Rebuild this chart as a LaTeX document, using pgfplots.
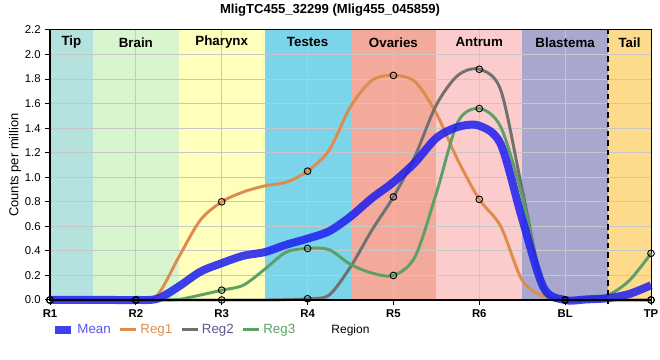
\documentclass[border=0pt]{standalone}
\usepackage{pgfplots}
\pgfplotsset{compat=1.18}
\usepackage{fontspec}
\setmainfont{Liberation Sans}
\definecolor{ctip}{RGB}{180,226,222}
\definecolor{cbrain}{RGB}{216,245,208}
\definecolor{cphar}{RGB}{255,255,187}
\definecolor{ctest}{RGB}{123,212,234}
\definecolor{covar}{RGB}{244,170,155}
\definecolor{cantr}{RGB}{252,204,204}
\definecolor{cblas}{RGB}{168,168,206}
\definecolor{ctail}{RGB}{253,218,140}
\definecolor{cmean}{RGB}{30,30,240}
\definecolor{creg1}{RGB}{222,140,78}
\definecolor{creg2}{RGB}{112,112,112}
\definecolor{creg3}{RGB}{92,160,104}
\pgfplotsset{set layers}
\begin{document}
\begin{tikzpicture}
\begin{axis}[
  scale only axis, width=450.75pt, height=202.5pt,
  xmin=0, xmax=7, ymin=0, ymax=2.2,
  clip=false,
  xtick={0,1,2,3,4,5,6,7},
  xticklabels={R1,R2,R3,R4,R5,R6,BL,TP},
  ytick={0,0.2,0.4,0.6,0.8,1.0,1.2,1.4,1.6,1.8,2.0,2.2},
  /pgf/number format/fixed, /pgf/number format/fixed zerofill, /pgf/number format/precision=1, /pgf/number format/assume math mode=true,
  yticklabel style={font=\fontsize{8.5}{10}\selectfont},
  xticklabel style={font=\bfseries\fontsize{8.5}{10}\selectfont},
  xtick pos=bottom, ytick pos=left,
  tick align=outside, major tick length=3.5pt,
  tick style={black, line width=0.75pt},
  grid=major,
  major grid style={draw=black!22, line width=0.75pt},
  axis line style={black, line width=0.75pt},
  title={MligTC455\_32299 (Mlig455\_045859)},
  title style={at={(axis description cs:0.466,1.033)}, anchor=base, font=\bfseries\fontsize{9.8}{12}\selectfont},
  ylabel={Counts per million},
  ylabel style={at={(axis description cs:-0.058,0.5)}, anchor=center, font=\fontsize{9.7}{11}\selectfont},
  xlabel={Region},
  xlabel style={at={(axis description cs:0.5,-0.111)}, anchor=center, font=\fontsize{9}{11}\selectfont},
  legend style={at={(axis description cs:0.002,-0.111)}, anchor=west, draw=none, fill=none,
    legend columns=4, font=\fontsize{10}{12}\selectfont, inner sep=0pt,
    /tikz/every even column/.append style={column sep=4pt}},
  legend image code/.code={\draw[#1] (0pt,0pt) -- (12pt,0pt);},
]
% region bands
\addplot[fill=ctip, draw=none, on layer=axis background, forget plot] coordinates {(0,0) (0.5,0) (0.5,2.2) (0,2.2)};
\addplot[fill=cbrain, draw=none, on layer=axis background, forget plot] coordinates {(0.5,0) (1.5,0) (1.5,2.2) (0.5,2.2)};
\addplot[fill=cphar, draw=none, on layer=axis background, forget plot] coordinates {(1.5,0) (2.5,0) (2.5,2.2) (1.5,2.2)};
\addplot[fill=ctest, draw=none, on layer=axis background, forget plot] coordinates {(2.5,0) (3.5,0) (3.5,2.2) (2.5,2.2)};
\addplot[fill=covar, draw=none, on layer=axis background, forget plot] coordinates {(3.5,0) (4.5,0) (4.5,2.2) (3.5,2.2)};
\addplot[fill=cantr, draw=none, on layer=axis background, forget plot] coordinates {(4.5,0) (5.5,0) (5.5,2.2) (4.5,2.2)};
\addplot[fill=cblas, draw=none, on layer=axis background, forget plot] coordinates {(5.5,0) (6.5,0) (6.5,2.2) (5.5,2.2)};
\addplot[fill=ctail, draw=none, on layer=axis background, forget plot] coordinates {(6.5,0) (7,0) (7,2.2) (6.5,2.2)};
\node[font=\bfseries\fontsize{10}{12}\selectfont] at (axis cs:0.25,2.1) {Tip};
\node[font=\bfseries\fontsize{10}{12}\selectfont] at (axis cs:1,2.1) {Brain};
\node[font=\bfseries\fontsize{10}{12}\selectfont] at (axis cs:2,2.1) {Pharynx};
\node[font=\bfseries\fontsize{10}{12}\selectfont] at (axis cs:3,2.1) {Testes};
\node[font=\bfseries\fontsize{10}{12}\selectfont] at (axis cs:4,2.1) {Ovaries};
\node[font=\bfseries\fontsize{10}{12}\selectfont] at (axis cs:5,2.1) {Antrum};
\node[font=\bfseries\fontsize{10}{12}\selectfont] at (axis cs:6,2.1) {Blastema};
\node[font=\bfseries\fontsize{10}{12}\selectfont] at (axis cs:6.75,2.1) {Tail};
% Reg1
\addplot[creg1, line width=2.2pt, smooth, forget plot] coordinates {
(0,0) (0.25,0) (0.5,0) (0.75,0) (1,0) (1.25,0.04) (1.5,0.35) (1.75,0.65) (2,0.8) (2.25,0.88) (2.5,0.93) (2.75,0.96) (3,1.05) (3.25,1.22) (3.5,1.575) (3.75,1.79) (4,1.83) (4.25,1.78) (4.5,1.52) (4.75,1.14) (5,0.82) (5.25,0.6) (5.5,0.16) (5.75,0.03) (6,0) (6.25,0) (6.5,0) (6.75,0) (7,0)};
% Reg2
\addplot[creg2, line width=2.2pt, smooth, forget plot] coordinates {
(0,0) (0.25,0) (0.5,0) (0.75,0) (1,0) (1.25,0) (1.5,0) (1.75,0) (2,0) (2.25,0) (2.5,0) (2.75,0.003) (3,0.01) (3.25,0.04) (3.5,0.27) (3.75,0.57) (4,0.84) (4.25,1.17) (4.5,1.59) (4.75,1.83) (5,1.88) (5.25,1.71) (5.5,0.9) (5.75,0.1) (6,0) (6.25,0) (6.5,0) (6.75,0) (7,0)};
% Reg3
\addplot[creg3, line width=2.2pt, smooth, forget plot] coordinates {
(0,0) (0.25,0) (0.5,0) (0.75,0) (1,0) (1.25,0) (1.5,0.005) (1.75,0.04) (2,0.08) (2.25,0.12) (2.5,0.25) (2.75,0.39) (3,0.42) (3.25,0.41) (3.5,0.29) (3.75,0.22) (4,0.2) (4.25,0.35) (4.5,0.87) (4.75,1.45) (5,1.56) (5.25,1.41) (5.5,0.84) (5.75,0.08) (6,0) (6.25,0.015) (6.5,0.04) (6.75,0.16) (7,0.38)};
% Mean
\addplot[cmean, line width=6pt, opacity=0.85, smooth, forget plot] coordinates {
(0,0) (0.25,0) (0.5,0) (0.75,0) (1,0) (1.25,0.01) (1.5,0.11) (1.75,0.23) (2,0.30) (2.25,0.36) (2.5,0.39) (2.75,0.45) (3,0.50) (3.25,0.56) (3.5,0.68) (3.75,0.83) (4,0.96) (4.25,1.12) (4.5,1.32) (4.75,1.41) (5,1.42) (5.25,1.27) (5.5,0.66) (5.75,0.10) (6,0) (6.25,0.005) (6.5,0.015) (6.75,0.05) (7,0.12)};
% markers
\addplot[only marks, mark=o, mark size=2.5pt, mark options={black, line width=0.7pt}, forget plot] coordinates {
(0,0) (1,0) (2,0.8) (3,1.05) (4,1.83) (5,0.82) (6,0) (7,0)};
\addplot[only marks, mark=o, mark size=2.5pt, mark options={black, line width=0.7pt}, forget plot] coordinates {
(0,0) (1,0) (2,0) (3,0.01) (4,0.84) (5,1.88) (6,0) (7,0)};
\addplot[only marks, mark=o, mark size=2.5pt, mark options={black, line width=0.7pt}, forget plot] coordinates {
(0,0) (1,0) (2,0.08) (3,0.42) (4,0.2) (5,1.56) (6,0) (7,0.38)};
% dashed separator
\addplot[black, line width=1.5pt, dash pattern=on 4pt off 3pt, forget plot] coordinates {(6.5,-0.035) (6.5,2.2)};
% thick left and bottom axis lines
\draw[black, line width=2pt] (axis description cs:0,1) -- (axis description cs:0,0) -- (axis description cs:1,0);
% legend
\addlegendimage{cmean, line width=5.5pt, opacity=0.85}
\addlegendentry{\textcolor{cmean!75!white}{Mean}}
\addlegendimage{creg1, line width=2.2pt}
\addlegendentry{\textcolor{creg1}{Reg1}}
\addlegendimage{creg2, line width=2.2pt}
\addlegendentry{\textcolor{creg2!80!blue}{Reg2}}
\addlegendimage{creg3, line width=2.2pt}
\addlegendentry{\textcolor{creg3}{Reg3}}
\end{axis}
\pgfresetboundingbox
\path[use as bounding box] (-37.5pt,-45pt) rectangle (457.5pt,225pt);
\end{tikzpicture}
\end{document}
